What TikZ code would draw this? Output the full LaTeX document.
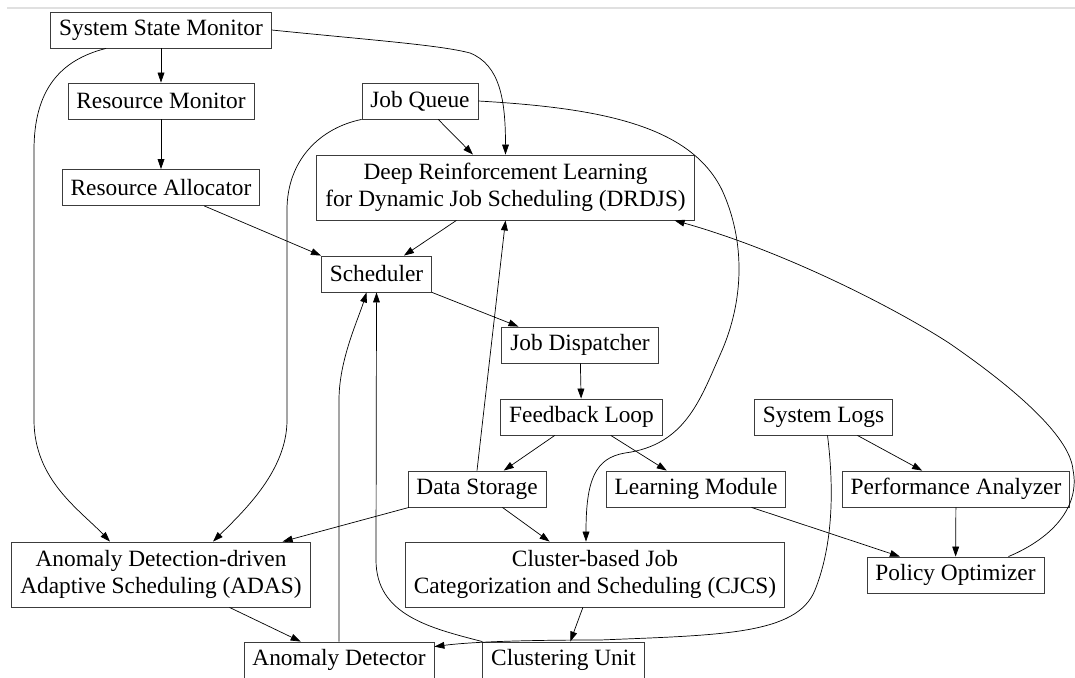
\documentclass[tikz,border=0pt]{standalone}
\usepackage{fontspec}
\setmainfont{Liberation Serif}
\usetikzlibrary{arrows.meta, calc}
\definecolor{boxgray}{RGB}{60,60,60}
\tikzset{
	block/.style={
		draw=boxgray,
		rectangle,
		line width=0.6pt,
		inner xsep=6pt,
		inner ysep=2pt,
		minimum height=0.9cm,
		font=\fontsize{16.6}{19.5}\selectfont
	},
	twoline/.style={
		block,
		align=center,
		minimum height=1.625cm
	}
}

\begin{document}
\begin{tikzpicture}[x=0.025cm, y=-0.025cm]
	\tikzset{edge/.style={-{Triangle[length=0.25cm,width=0.17cm]}, line width=0.5pt}}
	\useasboundingbox (0,0) rectangle (1075,677);
	\draw[black!12, line width=0.8pt] (7,8) -- (1075,8);
	
	\node(ssm) at (161,30) [block] {System State Monitor};
	\node(rm) at (161,101) [block] {Resource Monitor};
	\node(ra) at (161,187.5) [block] {Resource Allocator};
	\node(jq) at (420,101) [block] {Job Queue};
	\node(drdjs) at (505.5,187.5) [twoline] {Deep Reinforcement Learning\\for Dynamic Job Scheduling (DRDJS)};
	\node(sched) at (376.5,274) [block] {Scheduler};
	\node(jd) at (580,345) [block] {Job Dispatcher};
	\node(fl) at (581.5,417) [block] {Feedback Loop};
	\node(sl) at (823.5,417) [block] {System Logs};
	
	\node(ds) at (477,489) [block] {Data Storage};
	\node(lm) at (696,489) [block] {Learning Module};
	\node(pa) at (956,489) [block] {Performance Analyzer};
	
	\node(adas) at (161,574.5) [twoline] {Anomaly Detection-driven\\Adaptive Scheduling (ADAS)};
	\node(cjcs) at (595,574.5) [twoline] {Cluster-based Job\\Categorization and Scheduling (CJCS)};
	\node(po) at (955.5,575) [block] {Policy Optimizer};
	
	\node(ad) at (339,660) [block] {Anomaly Detector};
	\node(cu) at (563.5,660) [block] {Clustering Unit};
	
	% straight connectors
	\draw[edge] (ssm) -- (rm);
	\draw[edge] (rm) -- (ra);
	\draw[edge] (ra) -- (sched.north west);
	\draw[edge] (jq) -- (drdjs);
	\draw[edge] (drdjs) -- (sched);
	\draw[edge] (sched.south east) -- ($(jd.north west)+(17,0)$);
	\draw[edge] (jd) -- (fl);
	\draw[edge] (fl) -- (ds);
	\draw[edge] (fl) -- (lm);
	\draw[edge] (ds.north) -- (drdjs.south);
	\draw[edge] (ds) -- (adas);
	\draw[edge] (ds) -- (cjcs);
	\draw[edge] (sl) -- (pa);
	\draw[edge] (lm) -- (po);
	\draw[edge] (pa) -- (po);
	\draw[edge] (cjcs) -- (cu);
	\draw[edge] (adas) -- (ad);
	
	% curved connectors
	\draw[edge] (ssm.east) .. controls (370,40) and (440,45) .. (470,53)
		.. controls (500,65) and (505.5,100) .. (drdjs.north);
	\draw[edge] ($(ssm.south)+(-55,0)$) .. controls (60,60) and (34,90) .. (34,150) -- (34,420)
		.. controls (34,480) and (80,510) .. ($(adas.north)+(-51,0)$);
	\draw[edge] (jq.south west) .. controls (320,128) and (287,160) .. (287,210) -- (287,420)
		.. controls (287,470) and (245,510) .. ($(adas.north)+(52,0)$);
	\draw[edge] (jq.east) .. controls (600,108) and (690,125) .. (722,190)
		.. controls (745,240) and (745,300) .. (720,355)
		.. controls (700,400) and (685,445) .. (625,453)
		.. controls (595,458) and (586,480) .. ($(cjcs.north)+(-9,0)$);
	\draw[edge] ($(sl.south)+(4,0)$) .. controls (833,480) and (835,540) .. (815,590)
		.. controls (797,635) and (720,635) .. (600,640)
		.. controls (520,640) and (470,642) .. ($(ad.north east)+(0,5)$);
	\draw[edge] ($(po.north east)+(-36,0)$) .. controls (1055,537) and (1080,505) .. (1073,470)
		.. controls (1070,435) and (1010,385) .. (949,343)
		.. controls (890,305) and (780,250) .. ($(drdjs.south east)+(-20,0)$);
	\draw[edge] (ad.north) -- (339,400) .. controls (339,360) and (358,320) .. ($(sched.south)+(-10,0)$);
	\draw[edge] (cu.north west) .. controls (430,628) and (376,615) .. (376,560) -- (sched.south);
	
\end{tikzpicture}
\end{document}
